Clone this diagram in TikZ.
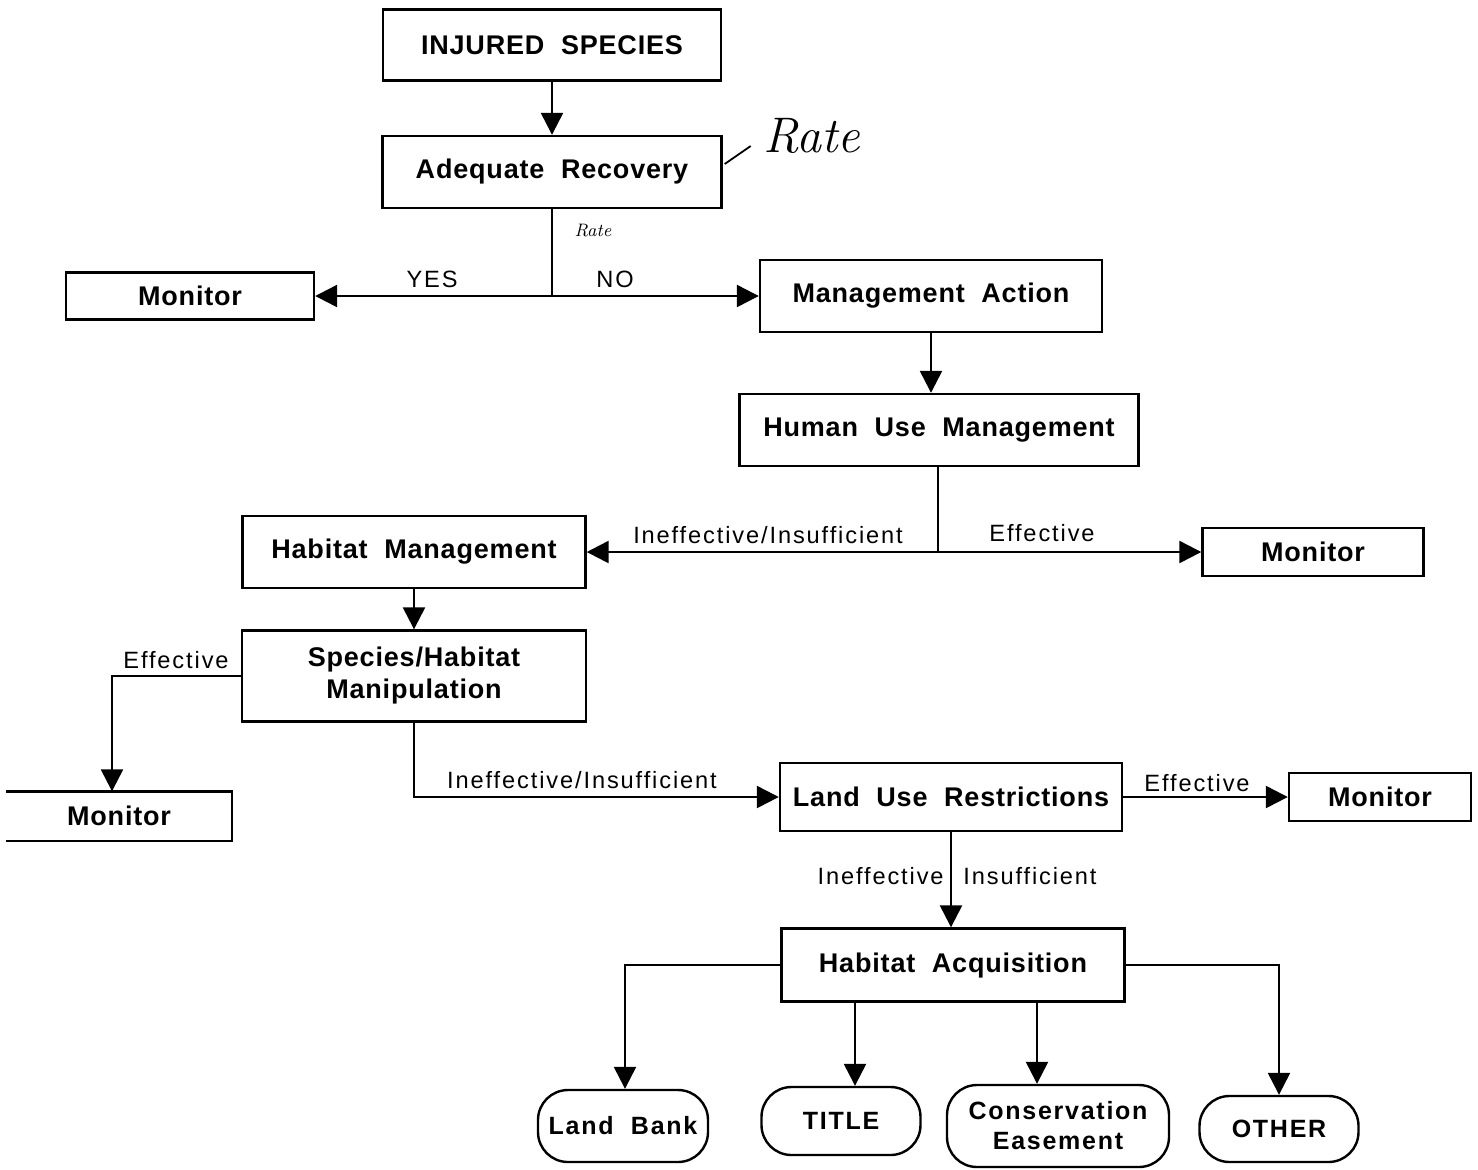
\documentclass[tikz,border=0pt]{standalone}
\usepackage{fontspec}
\usetikzlibrary{arrows.meta}
\newfontfamily\chartfont[LetterSpace=3]{Liberation Sans}
\newfontfamily\endfont[LetterSpace=7]{Liberation Sans}
\newfontfamily\labelfont[LetterSpace=8]{Liberation Sans}

\begin{document}
\begin{tikzpicture}[x=0.5pt,y=-0.5pt,
  box/.style={draw, line width=1.2pt, rectangle, align=center, inner sep=0pt,
    font=\chartfont\bfseries\fontsize{13.5}{16}\selectfont},
  endbox/.style={box, rounded corners=15pt,
    font=\endfont\bfseries\fontsize{12.5}{15}\selectfont},
  lbl/.style={font=\labelfont\fontsize{11.8}{13}\selectfont, inner sep=1pt},
  arr/.style={line width=1.2pt, -{Triangle[length=11pt,width=11pt]}},
  line/.style={line width=1.2pt}]
\useasboundingbox (0,0) rectangle (1478,1169);
\node[box, minimum width=169pt, minimum height=35.5pt] (inj) at (552,45) {INJURED\ \ SPECIES};
\node[box, minimum width=169.5pt, minimum height=36pt] (adeq) at (552,172) {Adequate\ \ Recovery};
\node[box, minimum width=124pt, minimum height=23.5pt] (monA) at (190,296) {Monitor};
\node[box, minimum width=171pt, minimum height=36pt] (mact) at (931,296) {Management\ \ Action};
\node[box, minimum width=199.5pt, minimum height=36pt] (human) at (939,430) {Human\ \ Use\ \ Management};
\node[box, minimum width=171.5pt, minimum height=36pt] (habm) at (414,552) {Habitat\ \ Management};
\node[box, minimum width=110.5pt, minimum height=24pt] (monB) at (1313,552) {Monitor};
\node[box, minimum width=172pt, minimum height=45.5pt] (manip) at (414,676) {Species/Habitat\\Manipulation};
\node[box, draw=none, minimum width=112pt, minimum height=23.5pt] (monC) at (119,816) {Monitor};
\draw[line] (monC.north west) -- (monC.north east) -- (monC.south east) -- (monC.south west);
\node[box, minimum width=171pt, minimum height=34pt] (landuse) at (951,797) {Land\ \ Use\ \ Restrictions};
\node[box, minimum width=91pt, minimum height=24pt] (monD) at (1380,797) {Monitor};
\node[box, minimum width=171.5pt, minimum height=36.5pt] (acq) at (953,965) {Habitat\ \ Acquisition};
\node[endbox, minimum width=85pt, minimum height=36pt] (bank) at (623,1126) {Land\ \ Bank};
\node[endbox, minimum width=79.5pt, minimum height=34pt] (title) at (841,1121) {TITLE};
\node[endbox, minimum width=111pt, minimum height=41pt] (cons) at (1058,1126) {Conservation\\Easement};
\node[endbox, minimum width=79.5pt, minimum height=33pt] (other) at (1279,1129) {OTHER};

% handwritten notes
\draw[line width=0.9pt] (adeq.east) ++(2,-8) -- ++(26,-18);
\node[font=\itshape\fontsize{25}{26}\selectfont] (rate) at (812,136) {Rate};
\node[font=\itshape\fontsize{9}{10}\selectfont] (rate2) at (593,231) {Rate};

% connectors
\draw[arr] (inj) -- (adeq);
\coordinate (j1) at (552,296);
\draw[line] (adeq) -- (j1);
\draw[arr] (j1) -- (monA);
\draw[arr] (j1) -- (mact);
\node[lbl] (yes) at (432,279) {YES};
\node[lbl] (no) at (615,279) {NO};
\draw[arr] (mact.south) -- (mact.south |- human.north);
\coordinate (j2) at (938,552);
\draw[line] (human.south -| j2) -- (j2);
\draw[arr] (j2) -- (habm);
\draw[arr] (j2) -- (monB);
\node[lbl] (ins1) at (768,535) {Ineffective/Insufficient};
\node[lbl] (eff1) at (1042,533) {Effective};
\draw[arr] (habm) -- (manip);
\coordinate (c1) at (112,676);
\draw[arr] (manip.west) -- (c1) -- (c1 |- monC.north);
\node[lbl] (eff2) at (176,660) {Effective};
\draw[arr] (manip.south) |- (landuse.west);
\node[lbl] (ins2) at (582,780) {Ineffective/Insufficient};
\draw[arr] (landuse) -- (monD);
\node[lbl] (eff3) at (1197,783) {Effective};
\draw[arr] (landuse.south) -- (landuse.south |- acq.north);
\node[lbl, anchor=east] (ins3) at (946,876) {Ineffective};
\node[lbl, anchor=west] (ins4) at (961,876) {Insufficient};
\draw[arr] (acq.west) -| ([xshift=1pt]bank.north);
\draw[arr] ([xshift=7pt]acq.south -| title.north) -- ([xshift=7pt]title.north);
\draw[arr] ([xshift=-10.5pt]acq.south -| cons.north) -- ([xshift=-10.5pt]cons.north);
\draw[arr] (acq.east) -| (other.north);
\end{tikzpicture}
\end{document}
